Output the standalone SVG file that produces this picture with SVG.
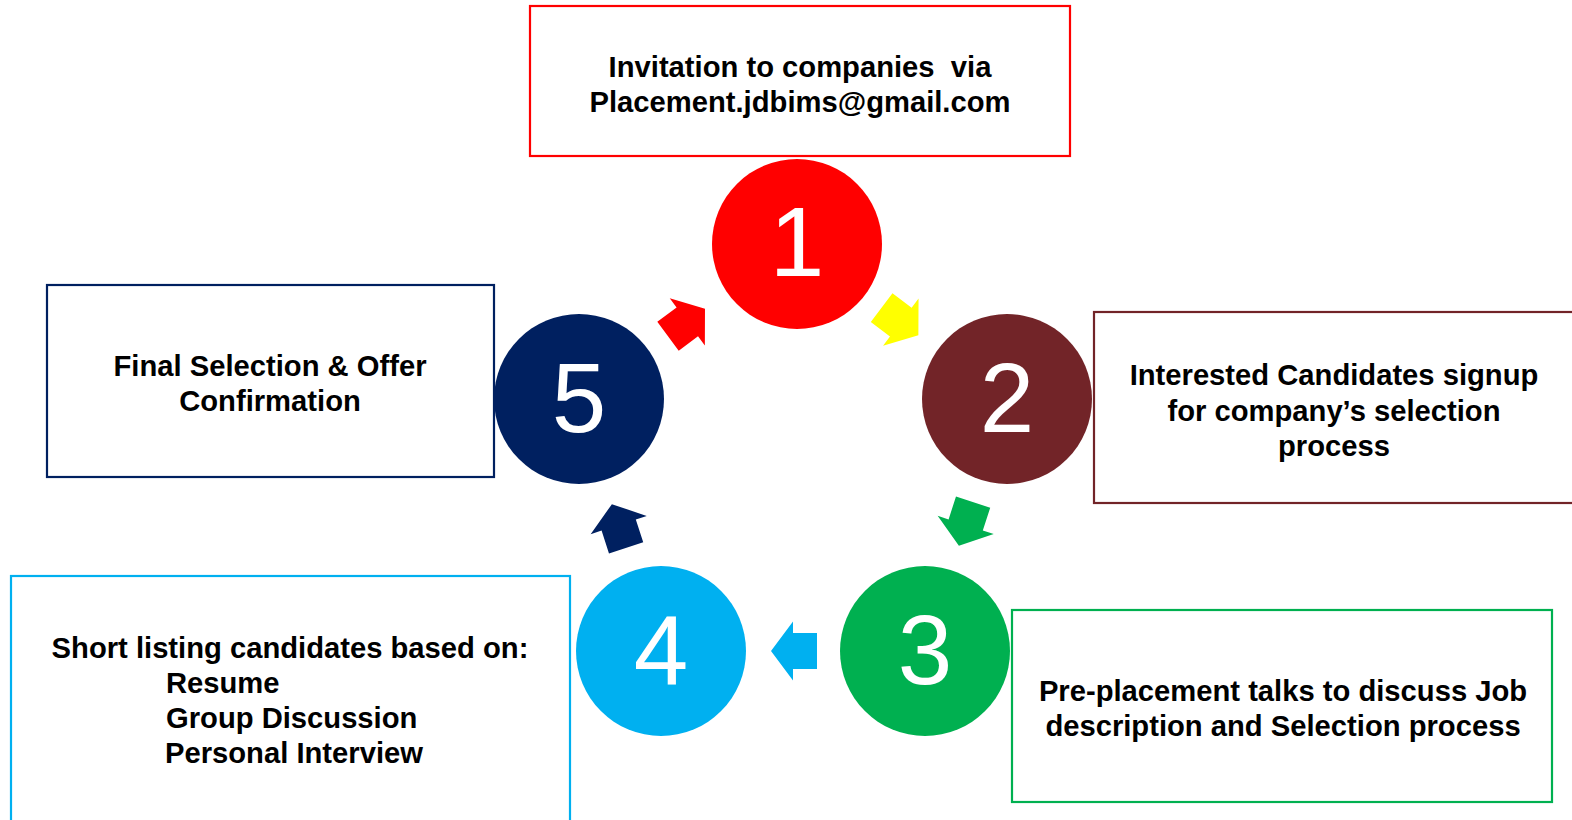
<svg xmlns="http://www.w3.org/2000/svg" width="1572" height="820" viewBox="0 0 1572 820">
<style>
.box{fill:#fff;stroke-width:2.2}
.lbl{font-family:"Liberation Sans",Arial,sans-serif;font-weight:bold;font-size:29.2px;fill:#000}
.c{text-anchor:middle}
.num{font-family:"Liberation Sans",Arial,sans-serif;font-size:98px;fill:#fff;text-anchor:middle}
</style>
<defs>
<polygon id="arr" points="-23,-18 1,-18 1,-29.5 23,0 1,29.5 1,18 -23,18"/>
</defs>
<rect width="1572" height="820" fill="#fff"/>
<g id="box1">
<rect class="box" x="530" y="6" width="540" height="150" stroke="#FF0000"/>
<text class="lbl c" x="800" y="77" xml:space="preserve">Invitation to companies  via</text>
<text class="lbl c" x="800" y="112">Placement.jdbims@gmail.com</text>
</g>
<g id="box2">
<rect class="box" x="1094" y="312" width="490" height="191" stroke="#722428"/>
<text class="lbl c" x="1334" y="385">Interested Candidates signup</text>
<text class="lbl c" x="1334" y="421">for company’s selection</text>
<text class="lbl c" x="1334" y="456">process</text>
</g>
<g id="box3">
<rect class="box" x="1012" y="610" width="540" height="192" stroke="#00B050"/>
<text class="lbl c" x="1283" y="701">Pre-placement talks to discuss Job</text>
<text class="lbl c" x="1283" y="736">description and Selection process</text>
</g>
<g id="box4">
<rect class="box" x="11" y="576" width="559" height="260" stroke="#00B0F0"/>
<text class="lbl c" x="290" y="658">Short listing candidates based on:</text>
<text class="lbl" x="166" y="693">Resume</text>
<text class="lbl" x="166" y="728">Group Discussion</text>
<text class="lbl" x="165" y="763">Personal Interview</text>
</g>
<g id="box5">
<rect class="box" x="47" y="285" width="447" height="192" stroke="#002060"/>
<text class="lbl c" x="270" y="376">Final Selection &amp; Offer</text>
<text class="lbl c" x="270" y="411">Confirmation</text>
</g>
<g id="node1"><circle cx="797" cy="244" r="85" fill="#FF0000"/><text class="num" x="797" y="276">1</text></g>
<g id="node2"><circle cx="1007" cy="399" r="85" fill="#722428"/><text class="num" x="1007" y="432">2</text></g>
<g id="node3"><circle cx="925" cy="651" r="85" fill="#00B050"/><text class="num" x="925" y="684">3</text></g>
<g id="node4"><circle cx="661" cy="651" r="85" fill="#00B0F0"/><text class="num" x="661" y="684">4</text></g>
<g id="node5"><circle cx="579" cy="399" r="85" fill="#002060"/><text class="num" x="579" y="432">5</text></g>
<g id="connectors">
<use href="#arr" fill="#FF0000" transform="translate(686.5,322.5) rotate(-36.5)"/>
<use href="#arr" fill="#FFFF00" transform="translate(900,321.5) rotate(37)"/>
<use href="#arr" fill="#00B050" transform="translate(966,524) rotate(108)"/>
<use href="#arr" fill="#00B0F0" transform="translate(794,651) rotate(180)"/>
<use href="#arr" fill="#002060" transform="translate(619,526) rotate(-108)"/>
</g>
</svg>
